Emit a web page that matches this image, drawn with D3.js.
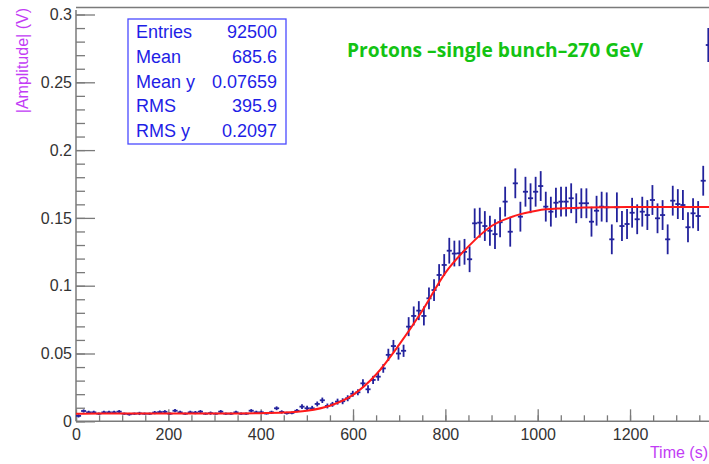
<!DOCTYPE html>
<html>
<head>
<meta charset="utf-8">
<script src="https://cdn.jsdelivr.net/npm/d3@7"></script>
<style>
  body { margin: 0; background: #fff; }
  svg { display: block; }
</style>
</head>
<body>
<svg id="chart" width="709" height="464"></svg>
<script>
// profile bins: 125 bins of 11 s from 0 to 1375 s
const binWidth = 11;
const binStart = 0;

const amplitude = [
  0.0040, 0.0076, 0.0066, 0.0066, 0.0056, 0.0066, 0.0066, 0.0066, 0.0071, 0.0056,
  0.0052, 0.0056, 0.0058, 0.0056, 0.0056, 0.0064, 0.0068, 0.0070, 0.0056, 0.0078,
  0.0066, 0.0056, 0.0066, 0.0064, 0.0071, 0.0056, 0.0060, 0.0056, 0.0071, 0.0056,
  0.0056, 0.0066, 0.0056, 0.0056, 0.0078, 0.0066, 0.0066, 0.0058, 0.0066, 0.0096,
  0.0069, 0.0060, 0.0062, 0.0078, 0.0108, 0.0096, 0.0096, 0.0128, 0.0155, 0.0113,
  0.0125, 0.0145, 0.0148, 0.0170, 0.0203, 0.0214, 0.0280, 0.0236, 0.0305, 0.0329,
  0.0390, 0.0490, 0.0555, 0.0500, 0.0520, 0.0698, 0.0777, 0.0816, 0.0777, 0.0907,
  0.0968, 0.1079, 0.1153, 0.1258, 0.1237, 0.1239, 0.1250, 0.1195, 0.1460, 0.1465,
  0.1440, 0.1405, 0.1380, 0.1468, 0.1620, 0.1398, 0.1755, 0.1509, 0.1693, 0.1645,
  0.1693, 0.1735, 0.1583, 0.1546, 0.1612, 0.1620, 0.1620, 0.1645, 0.1571, 0.1608,
  0.1608, 0.1472, 0.1553, 0.1583, 0.1578, 0.1342, 0.1578, 0.1440, 0.1455, 0.1538,
  0.1490, 0.1546, 0.1521, 0.1632, 0.1497, 0.1521, 0.1342, 0.1627, 0.1602, 0.1595,
  0.1431, 0.1534, 0.1514, 0.1774, 0.2775
];

const amplitudeErr = [
  0.0012, 0.0012, 0.0012, 0.0012, 0.0008, 0.0012, 0.0012, 0.0012, 0.0012, 0.0008,
  0.0010, 0.0008, 0.0012, 0.0008, 0.0008, 0.0012, 0.0012, 0.0012, 0.0008, 0.0012,
  0.0012, 0.0008, 0.0012, 0.0012, 0.0012, 0.0008, 0.0012, 0.0008, 0.0012, 0.0008,
  0.0008, 0.0012, 0.0008, 0.0008, 0.0012, 0.0012, 0.0012, 0.0008, 0.0012, 0.0014,
  0.0012, 0.0010, 0.0010, 0.0012, 0.0018, 0.0018, 0.0018, 0.0018, 0.0020, 0.0018,
  0.0018, 0.0022, 0.0022, 0.0022, 0.0022, 0.0022, 0.0030, 0.0030, 0.0030, 0.0030,
  0.0032, 0.0045, 0.0045, 0.0045, 0.0045, 0.0070, 0.0070, 0.0070, 0.0070, 0.0080,
  0.0080, 0.0080, 0.0080, 0.0095, 0.0095, 0.0095, 0.0095, 0.0095, 0.0110, 0.0110,
  0.0110, 0.0110, 0.0110, 0.0110, 0.0110, 0.0110, 0.0110, 0.0110, 0.0110, 0.0110,
  0.0110, 0.0110, 0.0110, 0.0110, 0.0110, 0.0110, 0.0110, 0.0110, 0.0110, 0.0110,
  0.0110, 0.0110, 0.0110, 0.0110, 0.0110, 0.0110, 0.0110, 0.0110, 0.0110, 0.0110,
  0.0110, 0.0110, 0.0110, 0.0110, 0.0110, 0.0110, 0.0110, 0.0110, 0.0110, 0.0110,
  0.0110, 0.0110, 0.0110, 0.0110, 0.0125
];

// fitted curve
const fitTime = [0, 50, 100, 150, 200, 250, 300, 350, 400, 450, 500, 550, 600, 650, 700,
  750, 800, 850, 900, 950, 1000, 1050, 1100, 1150, 1200, 1250, 1300, 1375];
const fitAmp = [0.0055, 0.0057, 0.0057, 0.0057, 0.0057, 0.0057, 0.0057, 0.0058, 0.0060, 0.0064,
  0.0078, 0.0115, 0.0195, 0.0345, 0.0565, 0.0815, 0.1095, 0.1290, 0.1440, 0.1515,
  0.1555, 0.1570, 0.1576, 0.1579, 0.1580, 0.1580, 0.1580, 0.1580];

const statNames = ["Entries", "Mean", "Mean y", "RMS", "RMS y"];
const statValues = ["92500", "685.6", "0.07659", "395.9", "0.2097"];

const xMajor = [0, 200, 400, 600, 800, 1000, 1200];
const yMajor = [0, 0.05, 0.1, 0.15, 0.2, 0.25, 0.3];

const titleText = "Protons \u2013single bunch\u2013270 GeV";

const svg = d3.select("#chart");
svg.append("rect").attr("width", 709).attr("height", 464).attr("fill", "#fff");

const x = d3.scaleLinear().domain([0, 1375]).range([76, 76 + 1375 * 0.4617]);
const y = d3.scaleLinear().domain([0, 0.3]).range([421.3, 14.5]);

const axisColor = "#7a7a7a";
const labelFont = "'Liberation Sans', Arial, sans-serif";

// frame top line
svg.append("line")
  .attr("x1", 76).attr("x2", 709)
  .attr("y1", 7.5).attr("y2", 7.5)
  .attr("stroke", axisColor).attr("stroke-width", 1.5);

// y axis: minor then major
const yAxisG = svg.append("g").attr("transform", `translate(${x(0)},0)`);
yAxisG.append("g")
  .call(d3.axisLeft(y).ticks(30).tickSize(-9).tickFormat(""))
  .call(g => g.select(".domain").remove());
yAxisG.append("g")
  .call(d3.axisLeft(y).tickValues(yMajor).tickSize(-19).tickPadding(4)
    .tickFormat(d => d === 0 ? "0" : String(+d.toFixed(2))))
  .call(g => g.select(".domain").attr("d", `M0,${y(0)}V10`));
yAxisG.selectAll("line").attr("stroke", axisColor).attr("stroke-width", 1.3);
yAxisG.selectAll(".domain").attr("stroke", axisColor).attr("stroke-width", 1.5);
yAxisG.selectAll("text")
  .attr("font-family", labelFont).attr("font-size", 16).attr("fill", "#333");

// x axis
const xAxisG = svg.append("g").attr("transform", `translate(0,${y(0)})`);
xAxisG.append("g")
  .call(d3.axisBottom(x).tickValues(d3.range(0, 1375, 50)).tickSize(-6).tickFormat(""))
  .call(g => g.select(".domain").remove());
xAxisG.append("g")
  .call(d3.axisBottom(x).tickValues(xMajor).tickSize(-12).tickPadding(7).tickFormat(d3.format("d")))
  .call(g => g.select(".domain").attr("d", `M${x(0)},0H709`));
xAxisG.selectAll("line").attr("stroke", axisColor).attr("stroke-width", 1.3);
xAxisG.selectAll(".domain").attr("stroke", axisColor).attr("stroke-width", 1.5);
xAxisG.selectAll("text")
  .attr("font-family", labelFont).attr("font-size", 16).attr("fill", "#333");

// axis titles
svg.append("text")
  .attr("transform", "translate(28,8) rotate(-90)")
  .attr("text-anchor", "end")
  .attr("font-family", labelFont).attr("font-size", 16)
  .attr("fill", "#c23cf5")
  .text("|Amplitude| (V)");

svg.append("text")
  .attr("x", 708).attr("y", 458)
  .attr("text-anchor", "end")
  .attr("font-family", labelFont).attr("font-size", 16)
  .attr("fill", "#c23cf5")
  .text("Time (s)");

// profile points with error bars
const points = amplitude.map((v, i) => ({
  t: binStart + binWidth * (i + 0.5),
  v: v,
  e: amplitudeErr[i]
}));

const pointColor = "#22229c";
const pts = svg.append("g");
pts.selectAll(".ebar")
  .data(points)
  .join("line")
  .attr("class", "ebar")
  .attr("x1", d => x(d.t)).attr("x2", d => x(d.t))
  .attr("y1", d => y(d.v - d.e)).attr("y2", d => y(d.v + d.e))
  .attr("stroke", pointColor).attr("stroke-width", 1.8);
pts.selectAll(".hbar")
  .data(points)
  .join("line")
  .attr("class", "hbar")
  .attr("x1", d => x(d.t - binWidth / 2)).attr("x2", d => x(d.t + binWidth / 2))
  .attr("y1", d => y(d.v)).attr("y2", d => y(d.v))
  .attr("stroke", pointColor).attr("stroke-width", 1.8);

// fit curve
const fitData = fitTime.map((t, i) => ({ t: t, v: fitAmp[i] }));
const line = d3.line()
  .x(d => x(d.t))
  .y(d => y(d.v))
  .curve(d3.curveMonotoneX);
svg.append("path")
  .datum(fitData)
  .attr("fill", "none")
  .attr("stroke", "#ff1a1a")
  .attr("stroke-width", 2)
  .attr("d", line);

// stats box
const stats = svg.append("g").attr("transform", "translate(128,19)");
stats.append("rect")
  .attr("width", 158).attr("height", 125)
  .attr("fill", "#fff")
  .attr("stroke", "#4a4aff").attr("stroke-width", 1.3);
stats.selectAll(".sname")
  .data(statNames)
  .join("text")
  .attr("class", "sname")
  .attr("x", 8)
  .attr("y", (d, i) => 19.3 + i * 24.6)
  .attr("font-family", labelFont).attr("font-size", 18)
  .attr("fill", "#1e1ee6")
  .text(d => d);
stats.selectAll(".sval")
  .data(statValues)
  .join("text")
  .attr("class", "sval")
  .attr("x", 149)
  .attr("y", (d, i) => 19.3 + i * 24.6)
  .attr("text-anchor", "end")
  .attr("font-family", labelFont).attr("font-size", 18)
  .attr("fill", "#1e1ee6")
  .text(d => d);

// title
svg.append("text")
  .attr("x", 347).attr("y", 56.5)
  .attr("font-family", "'Open Sans', 'Noto Sans', sans-serif")
  .attr("font-weight", "bold")
  .attr("font-size", 20)
  .attr("textLength", 296)
  .attr("lengthAdjust", "spacingAndGlyphs")
  .attr("fill", "#13c313")
  .text(titleText);
</script>
</body>
</html>
